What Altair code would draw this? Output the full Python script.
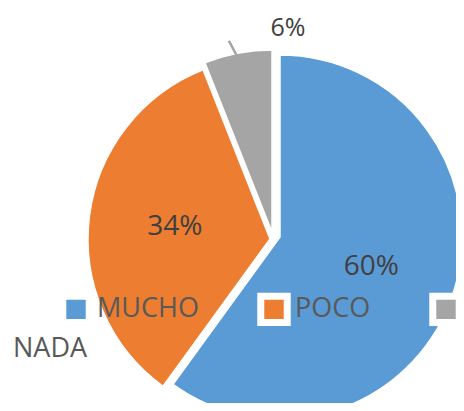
import math
import altair as alt
import pandas as pd

categories = ["MUCHO", "POCO", "NADA"]
values = [60, 34, 6]
labels = ["60%", "34%", "6%"]
colors = ["#5B9BD5", "#ED7D31", "#A5A5A5"]

df = pd.DataFrame({"cat": categories, "value": values, "label": labels,
                   "order": list(range(len(categories)))})

base = alt.Chart(df).transform_window(
    end="sum(value)", sort=[alt.SortField("order")], frame=[None, 0]
).transform_calculate(
    start="datum.end - datum.value",
    mid="(datum.start + datum.end) / 2",
)

theta_scale = alt.Scale(domain=[0, 100], range=[0, 2 * math.pi])

legend = alt.Legend(
    title=None, orient="none", legendX=51, legendY=284, direction="horizontal",
    columns=3, symbolType="square", symbolSize=700, symbolStrokeColor="white",
    symbolStrokeWidth=7, symbolOpacity=1, labelFontSize=27, labelFont="Open Sans",
    labelColor="#595959", columnPadding=47, labelOffset=4, padding=0,
    labelLimit=300, labelExpr="datum.label == 'NADA' ? '' : datum.label",
)

color = alt.Color("cat:N", scale=alt.Scale(domain=categories, range=colors), legend=legend)

centers = {"MUCHO": (272, 229), "POCO": (262, 231), "NADA": (264, 224)}

layers = []
for cat in categories:
    cx, cy = centers[cat]
    layers.append(
        base.transform_filter(alt.datum.cat == cat).mark_arc(
            radius=182, stroke="white", strokeWidth=1.5
        ).encode(
            theta=alt.Theta("start:Q", scale=theta_scale),
            theta2="end:Q",
            color=color,
            x=alt.value(cx), y=alt.value(cy),
        )
    )

for cat in ["MUCHO", "POCO"]:
    cx, cy = centers[cat]
    layers.append(
        base.transform_filter(alt.datum.cat == cat).mark_text(
            radius=96, font="Open Sans", fontSize=28, color="#404040",
            align="center", baseline="middle"
        ).encode(
            theta=alt.Theta("mid:Q", scale=theta_scale),
            text="label:N",
            x=alt.value(cx), y=alt.value(cy),
        )
    )

layers.append(
    base.transform_filter(alt.datum.cat == "NADA").mark_text(
        font="Open Sans", fontSize=25, color="#404040", align="center", baseline="middle"
    ).encode(text="label:N", x=alt.value(280), y=alt.value(20))
)

layers.append(
    alt.Chart(df).mark_rule(color="#A6A6A6", strokeWidth=2).encode(
        x=alt.value(221), y=alt.value(33), x2=alt.value(230), y2=alt.value(50)
    )
)

layers.append(
    base.transform_filter(alt.datum.cat == "NADA").mark_text(
        font="Open Sans", fontSize=27, color="#595959", align="left", baseline="middle"
    ).encode(text="cat:N", x=alt.value(5), y=alt.value(341))
)

chart = alt.layer(*layers).properties(
    width=448, height=395, padding=0, autosize=alt.AutoSizeParams(type="none")
).configure_view(stroke=None)

chart.save("out.html", embed_options={"renderer": "svg", "actions": False})
